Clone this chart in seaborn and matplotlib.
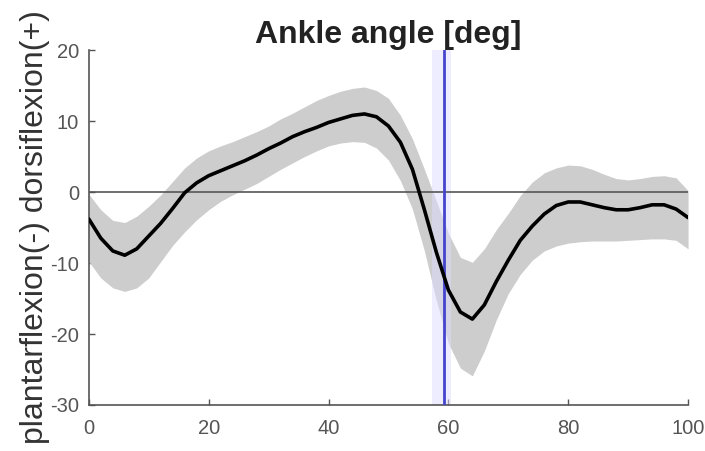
import numpy as np
import pandas as pd
import matplotlib
matplotlib.use("Agg")
import matplotlib.pyplot as plt
import seaborn as sns

# gait cycle (%)
cycle = list(range(0, 101, 2))

mean_angle = [
    -3.8, -6.5, -8.3, -8.9, -8.0, -6.2, -4.4, -2.3, -0.1, 1.3,
    2.3, 3.0, 3.7, 4.4, 5.2, 6.1, 6.9, 7.8, 8.5, 9.1,
    9.8, 10.3, 10.8, 11.0, 10.6, 9.3, 7.0, 3.2, -2.5, -8.5,
    -13.8, -16.9, -17.9, -15.9, -12.6, -9.6, -6.8, -4.8, -3.1, -1.9,
    -1.4, -1.4, -1.8, -2.2, -2.5, -2.5, -2.2, -1.8, -1.8, -2.4,
    -3.6,
]

upper_sd = [
    -0.3, -2.5, -4.0, -4.3, -3.4, -2.0, -0.4, 1.5, 3.4, 4.8,
    5.8, 6.5, 7.1, 7.8, 8.5, 9.3, 10.3, 11.1, 12.0, 12.9,
    13.6, 14.2, 14.6, 14.8, 14.3, 13.2, 10.8, 7.5, 3.2, -1.3,
    -5.8, -9.2, -9.9, -8.0, -5.3, -3.0, -0.5, 1.4, 2.7, 3.4,
    3.8, 3.7, 3.2, 2.5, 1.9, 1.7, 1.9, 2.2, 2.3, 2.0,
    0.2,
]

lower_sd = [
    -9.8, -12.1, -13.5, -14.0, -13.5, -12.1, -9.8, -7.5, -5.6, -3.9,
    -2.5, -1.3, -0.4, 0.4, 1.2, 2.2, 3.2, 4.1, 5.0, 5.8,
    6.5, 6.9, 7.1, 7.0, 6.2, 4.5, 1.6, -2.4, -8.3, -15.3,
    -21.3, -24.8, -25.9, -22.4, -18.0, -14.3, -11.6, -9.6, -8.3, -7.6,
    -7.2, -7.0, -6.9, -6.9, -6.9, -6.8, -6.7, -6.6, -6.6, -6.8,
    -8.0,
]

toe_off = 59.3
toe_off_range = (57.3, 60.5)

df = pd.DataFrame({"cycle": cycle, "mean": mean_angle,
                   "upper": upper_sd, "lower": lower_sd})

sns.set_style("ticks")
plt.rcParams["font.family"] = ["Liberation Sans", "DejaVu Sans"]
plt.rcParams["axes.unicode_minus"] = False

fig = plt.figure(figsize=(7.05, 4.51), dpi=100)
ax = fig.add_axes([0.126, 0.102, 0.85, 0.787])

ax.fill_between(df["cycle"], df["lower"], df["upper"],
                color="#cdcdcd", linewidth=0, zorder=1)
ax.axvspan(toe_off_range[0], toe_off_range[1], color="#dcdcff",
           alpha=0.5, linewidth=0, zorder=2)
ax.axhline(0, color="#555555", linewidth=1.2, zorder=3)
ax.axvline(toe_off, color="#4444cc", linewidth=2, zorder=4)
sns.lineplot(data=df, x="cycle", y="mean", color="black",
             linewidth=2.6, ax=ax, zorder=5)

ax.set_xlim(0, 100)
ax.set_ylim(-30, 20)
ax.set_xticks([0, 20, 40, 60, 80, 100])
ax.set_yticks([-30, -20, -10, 0, 10, 20])
ax.tick_params(direction="in", length=4, width=1, colors="#555555",
               labelsize=14.5, labelcolor="#555555")
ax.tick_params(axis="x", pad=10)
ax.tick_params(axis="y", pad=7)
for s in ["left", "bottom"]:
    ax.spines[s].set_color("#555555")
    ax.spines[s].set_linewidth(1.2)
sns.despine(ax=ax)

ax.set_title("Ankle angle [deg]", fontsize=23, fontweight="bold",
             color="#222222", pad=4)
ax.set_xlabel("")
ax.set_ylabel("plantarflexion(-) dorsiflexion(+)", fontsize=23,
              color="#333333", labelpad=0)

fig.savefig("out.png", dpi=100)
